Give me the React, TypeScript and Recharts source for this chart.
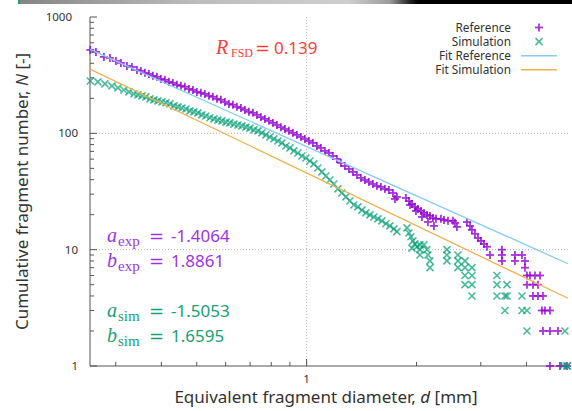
import React from "react";
import { ScatterChart, Scatter, XAxis, YAxis, ReferenceLine, Legend, Customized } from "recharts";

// Reference (experiment) points: diameter [mm] / cumulative count
const refD = [
  0.2555, 0.2647, 0.2784, 0.2891, 0.3003, 0.3099, 0.3219, 0.3322, 0.3428, 0.3516,
  0.3606, 0.3698, 0.3792, 0.3889, 0.3988, 0.409, 0.4195, 0.4302, 0.4412, 0.4525,
  0.464, 0.4759, 0.488, 0.5005, 0.5133, 0.5264, 0.5399, 0.5537, 0.5678, 0.5823,
  0.5972, 0.6125, 0.6281, 0.6442, 0.6606, 0.6775, 0.6948, 0.7126, 0.7308, 0.7494,
  0.7686, 0.7882, 0.8083, 0.829, 0.8502, 0.8719, 0.8942, 0.917, 0.9404, 0.9645,
  0.9891, 1.0144, 1.0403, 1.0669, 1.0941, 1.1221, 1.1507, 1.1801, 1.2103, 1.2412,
  1.2729, 1.3054, 1.3388, 1.373, 1.4081, 1.444, 1.4809, 1.5188, 1.5576, 1.5974,
  1.6382, 1.68, 1.7229, 1.767, 1.7455,
  1.871, 1.907, 1.943, 1.98, 2.018, 2.057, 2.096, 2.136, 2.177, 2.218,
  2.261, 2.333, 2.378, 2.439, 2.517, 2.549, 2.581, 2.749, 2.802, 2.837,
  2.891, 2.947, 3.003, 3.06, 3.119,
  1.9188, 1.9928, 2.0698, 2.1495, 2.2324,
  3.428, 3.178, 3.428, 3.721, 3.889, 3.428, 3.721, 3.964, 3.964,
  4.014, 4.091, 4.222, 4.357, 4.014, 4.169, 4.302, 4.169, 4.302, 4.44,
  4.412, 4.497, 4.641, 4.44, 4.641, 4.881, 4.641, 4.943, 5.166,
];
const refN = [
  521, 501, 454, 445, 419, 403, 380, 372, 351, 344,
  331, 324, 312, 306, 294, 288, 277, 271, 261, 256,
  251, 241, 236, 227, 223, 218, 210, 206, 198, 194,
  186, 179, 176, 169, 165, 159, 153, 150, 144, 138,
  133, 128, 123, 118, 113, 109, 105, 101, 96.9, 93.1,
  89.5, 86.0, 82.7, 77.9, 74.9, 70.6, 67.8, 63.9, 60.2, 55.7,
  52.4, 49.4, 46.6, 43.9, 41.4, 39.7, 38.2, 36.7, 35.3, 34.6,
  33.3, 32.6, 30.7, 28.4, 27.3,
  27.8, 26.2, 24.7, 23.3, 22.4, 21.5, 20.7, 19.9, 19.5, 18.7,
  18.4, 18.4, 18, 17.7, 17.7, 17, 15.7, 17.3, 16, 14.8,
  13.7, 12.6, 11.9, 11.2, 10.6,
  24.2, 21.5, 19.1, 17.3, 16.0,
  10, 9, 9, 9, 9, 8, 8, 8, 7,
  6, 6, 6, 6, 5, 5, 5, 4, 4, 4,
  3, 3, 3, 2, 2, 2, 1, 1, 1,
];

// Simulation points
const simD = [
  0.2555, 0.268, 0.2802, 0.2928, 0.3041, 0.3158, 0.326, 0.3364, 0.345, 0.3538,
  0.3629, 0.3722, 0.3816, 0.3914, 0.4014, 0.4116, 0.4222, 0.433, 0.444, 0.4554,
  0.467, 0.4789, 0.4911, 0.5037, 0.5165, 0.5297, 0.5433, 0.5572, 0.5714, 0.586,
  0.601, 0.6164, 0.6321, 0.6483, 0.6648, 0.6818, 0.6992, 0.7171, 0.7354, 0.7541,
  0.7735, 0.7932, 0.8134, 0.8342, 0.8556, 0.8774, 0.8999, 0.9228, 0.9464, 0.9706,
  0.9954, 1.0208, 1.0469, 1.0736, 1.101, 1.1292, 1.158, 1.1876, 1.218, 1.2491,
  1.281, 1.3137, 1.3473, 1.3817, 1.417, 1.4532, 1.4905, 1.5286, 1.5676, 1.6075,
  1.6486, 1.6907, 1.7339, 1.7677,
  1.883, 1.907, 1.931, 1.955, 1.98, 2.005, 1.9431, 2.096,
  2.044, 2.044, 2.136, 2.423, 2.044, 2.15, 2.423, 2.597,
  2.177, 2.423, 2.597, 2.715, 2.177, 2.597, 2.715, 2.837,
  2.715, 2.837, 3.322, 2.715, 2.837, 3.322, 3.538,
  2.837, 3.322, 3.494, 3.538, 3.889, 3.494, 3.889, 4.014,
  4.014, 5.101, 5.037, 5.166, 5.18,
];
const simN = [
  282, 277, 266, 256, 246, 236, 227, 218, 214, 210,
  206, 198, 194, 190, 186, 183, 179, 172, 169, 165,
  162, 156, 153, 150, 144, 141, 136, 133, 130, 128,
  125, 123, 120, 118, 116, 113, 111, 107, 105, 101,
  96.9, 93.1, 89.5, 86, 82.7, 77.9, 74.9, 70.6, 67.8, 63.9,
  61.4, 57.9, 54.6, 50.4, 46.6, 43, 39.7, 36.7, 33.3, 30.7,
  28.4, 26.2, 24.2, 23.3, 21.9, 20.7, 19.9, 19.1, 18.4, 17.7,
  16.7, 16, 15.1, 14.3,
  15.4, 13.9, 12.9, 11.9, 11.2, 10.6, 10.3, 11,
  11, 10, 10, 10, 9, 9, 9, 9,
  8, 8, 8, 8, 7, 7, 7, 7,
  6, 6, 6, 5, 5, 5, 5,
  4, 4, 4, 4, 4, 3, 3, 3,
  2, 2, 1, 1, 1,
];

// fit line end points
const fitRefD = [0.255, 5.2];
const fitRefN = [526, 7.57];
const fitSimD = [0.255, 5.2];
const fitSimN = [357, 3.82];

const xTicks = [0.3, 0.4, 0.5, 0.6, 0.7, 0.8, 0.9, 1, 2, 3, 4, 5];
const yTicks = [
  1, 2, 3, 4, 5, 6, 7, 8, 9, 10, 20, 30, 40, 50, 60, 70, 80, 90,
  100, 200, 300, 400, 500, 600, 700, 800, 900, 1000,
];
const xMajor = [1];
const yMajor = [1, 10, 100, 1000];

const legendItems = ["Reference", "Simulation", "Fit Reference", "Fit Simulation"];

const toPoints = (d: number[], n: number[]) => d.map((v, i) => ({ d: v, n: n[i] }));
const refData = toPoints(refD, refN);
const simData = toPoints(simD, simN);
const fitRefData = toPoints(fitRefD, fitRefN);
const fitSimData = toPoints(fitSimD, fitSimN);

const SANS = "'Noto Sans', 'Open Sans', sans-serif";
const SERIF = "'Liberation Serif', 'DejaVu Serif', serif";
const PURPLE = "#9400d3";
const GREEN = "#009e73";
const BLUE = "#86ccef";
const ORANGE = "#ebb24e";
const FRAME = "#555";
const TXT = "#333";

const Plus = (props: any) => {
  const { cx, cy } = props;
  if (cx == null || cy == null) return <g />;
  return (
    <g stroke={PURPLE} strokeWidth={1.8} opacity={0.8}>
      <line x1={cx - 4} y1={cy} x2={cx + 4} y2={cy} />
      <line x1={cx} y1={cy - 4} x2={cx} y2={cy + 4} />
    </g>
  );
};

const Cross = (props: any) => {
  const { cx, cy } = props;
  if (cx == null || cy == null) return <g />;
  return (
    <g stroke={GREEN} strokeWidth={1.6} opacity={0.7}>
      <line x1={cx - 3.5} y1={cy - 3.5} x2={cx + 3.5} y2={cy + 3.5} />
      <line x1={cx - 3.5} y1={cy + 3.5} x2={cx + 3.5} y2={cy - 3.5} />
    </g>
  );
};

const NoDot = () => <g />;

const BottomTick = ({ x, y, payload }: any) => {
  const major = xMajor.includes(payload.value);
  return (
    <g>
      <line x1={x} y1={y} x2={x} y2={y - (major ? 7 : 4)} stroke={FRAME} />
      {major && (
        <text x={x} y={y + 17} textAnchor="middle" fontSize={11.5} fill={TXT} fontFamily={SANS}>
          {payload.value}
        </text>
      )}
    </g>
  );
};

const TopTick = ({ x, y, payload }: any) => {
  const major = xMajor.includes(payload.value);
  return <line x1={x} y1={y} x2={x} y2={y + (major ? 7 : 4)} stroke={FRAME} />;
};

const LeftTick = ({ x, y, payload }: any) => {
  const major = yMajor.includes(payload.value);
  return (
    <g>
      <line x1={x} y1={y} x2={x + (major ? 7 : 4)} y2={y} stroke={FRAME} />
      {major && (
        <text
          x={payload.value === 1000 ? x - 18 : x - 12}
          y={y + 4}
          textAnchor="end"
          fontSize={11.5}
          fill={TXT}
          fontFamily={SANS}
        >
          {payload.value}
        </text>
      )}
    </g>
  );
};

const RightTick = ({ x, y, payload }: any) => {
  const major = yMajor.includes(payload.value);
  return <line x1={x} y1={y} x2={x - (major ? 7 : 4)} y2={y} stroke={FRAME} />;
};

const XTitle = () => (
  <text x={326} y={403} textAnchor="middle" fontSize={17} fill={TXT} fontFamily={SANS}>
    Equivalent fragment diameter, <tspan fontStyle="italic">d</tspan> [mm]
  </text>
);

const YTitle = () => (
  <text
    x={0}
    y={0}
    transform="translate(28 191.5) rotate(-90)"
    textAnchor="middle"
    fontSize={17}
    fill={TXT}
    fontFamily={SANS}
  >
    Cumulative fragment number, <tspan fontStyle="italic">N</tspan> [-]
  </text>
);

const Coef = ({ y, sym, sub, value, color }: any) => (
  <text y={y} fill={color} fontFamily={SANS} fontSize={17}>
    <tspan x={107} fontFamily={SERIF} fontStyle="italic" fontSize={20}>{sym}</tspan>
    <tspan x={118} dy={4} fontFamily={SERIF} fontSize={15}>{sub}</tspan>
    <tspan x={149} dy={-4} fontFamily="'DejaVu Sans', sans-serif" fontSize={18}>=</tspan>
    <tspan x={171}>{value}</tspan>
  </text>
);

const Annotations = () => (
  <g>
    <text y={54} fill="#ff3c3c" fontFamily={SANS} fontSize={17}>
      <tspan x={216} fontFamily={SERIF} fontStyle="italic" fontSize={20}>R</tspan>
      <tspan x={231} dy={3} fontFamily={SERIF} fontSize={12}>FSD</tspan>
      <tspan x={255} dy={-3} fontFamily="'DejaVu Sans', sans-serif" fontSize={18}>=</tspan>
      <tspan x={274}>0.139</tspan>
    </text>
    <Coef y={242} sym="a" sub="exp" value="-1.4064" color="#9d35e0" />
    <Coef y={267} sym="b" sub="exp" value="1.8861" color="#9d35e0" />
    <Coef y={317} sym="a" sub="sim" value="-1.5053" color="#17a078" />
    <Coef y={342} sym="b" sub="sim" value="1.6595" color="#17a078" />
    <XTitle />
    <YTitle />
  </g>
);

const LegendBox = () => (
  <svg width={572} height={90} style={{ display: "block", overflow: "visible" }}>
    {legendItems.map((name, i) => {
      const cy = 27.5 + i * 14.1;
      return (
        <g key={name}>
          <text x={511} y={cy + 4.2} textAnchor="end" fontSize={11.8} fill={TXT} fontFamily={SANS}>
            {name}
          </text>
          {i === 0 && <Plus cx={539} cy={cy} />}
          {i === 1 && <Cross cx={539} cy={cy} />}
          {i === 2 && <line x1={521} y1={cy} x2={557} y2={cy} stroke={BLUE} strokeWidth={1.5} />}
          {i === 3 && <line x1={521} y1={cy} x2={557} y2={cy} stroke={ORANGE} strokeWidth={1.5} />}
        </g>
      );
    })}
  </svg>
);

export default function App() {
  return (
    <div style={{ position: "absolute", left: 0, top: 0, width: 572, height: 411, background: "#fff" }}>
      <div
        style={{
          position: "absolute",
          left: 18,
          top: 0,
          width: 554,
          height: 4,
          background:
            "linear-gradient(to right, #1fa27e 0px, #1fa27e 2px, #858585 2px, #bdbdbd 180px, #cfcfcf 330px, #9a9a9a 372px, #222 392px, #000 400px, #000 554px)",
        }}
      />
      <ScatterChart width={572} height={411} margin={{ top: 17, right: 4, bottom: 15, left: 0 }}>
        <XAxis
          xAxisId="b"
          dataKey="d"
          type="number"
          scale="log"
          domain={[0.255, 5.2]}
          ticks={xTicks}
          interval={0}
          tickLine={false}
          tickSize={0}
          tickMargin={0}
          tick={<BottomTick />}
          axisLine={{ stroke: FRAME }}
          height={30}
        />
        <XAxis
          xAxisId="t"
          orientation="top"
          type="number"
          scale="log"
          domain={[0.255, 5.2]}
          ticks={xTicks}
          interval={0}
          tickLine={false}
          tickSize={0}
          tickMargin={0}
          tick={<TopTick />}
          axisLine={{ stroke: FRAME }}
          height={0}
        />
        <YAxis
          yAxisId="l"
          dataKey="n"
          type="number"
          scale="log"
          domain={[1, 1000]}
          ticks={yTicks}
          interval={0}
          tickLine={false}
          tickSize={0}
          tickMargin={0}
          tick={<LeftTick />}
          axisLine={{ stroke: FRAME }}
          width={90}
        />
        <YAxis
          yAxisId="r"
          orientation="right"
          type="number"
          scale="log"
          domain={[1, 1000]}
          ticks={yTicks}
          interval={0}
          tickLine={false}
          tickSize={0}
          tickMargin={0}
          tick={<RightTick />}
          axisLine={{ stroke: FRAME }}
          width={0}
        />
        <ReferenceLine xAxisId="b" yAxisId="l" x={1} stroke="#b5b5b5" strokeDasharray="1 2" />
        <ReferenceLine xAxisId="b" yAxisId="l" y={10} stroke="#b5b5b5" strokeDasharray="1 2" />
        <ReferenceLine xAxisId="b" yAxisId="l" y={100} stroke="#b5b5b5" strokeDasharray="1 2" />
        <Scatter
          name="Reference"
          xAxisId="b"
          yAxisId="l"
          data={refData}
          shape={Plus}
          isAnimationActive={false}
        />
        <Scatter
          name="Simulation"
          xAxisId="b"
          yAxisId="l"
          data={simData}
          shape={Cross}
          isAnimationActive={false}
        />
        <Scatter
          name="Fit Reference"
          xAxisId="b"
          yAxisId="l"
          data={fitRefData}
          shape={NoDot}
          line={{ stroke: BLUE, strokeWidth: 1.3 }}
          isAnimationActive={false}
        />
        <Scatter
          name="Fit Simulation"
          xAxisId="b"
          yAxisId="l"
          data={fitSimData}
          shape={NoDot}
          line={{ stroke: ORANGE, strokeWidth: 1.3 }}
          isAnimationActive={false}
        />
        <Legend
          layout="vertical"
          align="center"
          verticalAlign="middle"
          content={<LegendBox />}
          wrapperStyle={{ left: 0, top: 0, width: 572, height: 90, pointerEvents: "none" }}
        />
        <Customized component={<Annotations />} />
      </ScatterChart>
    </div>
  );
}
